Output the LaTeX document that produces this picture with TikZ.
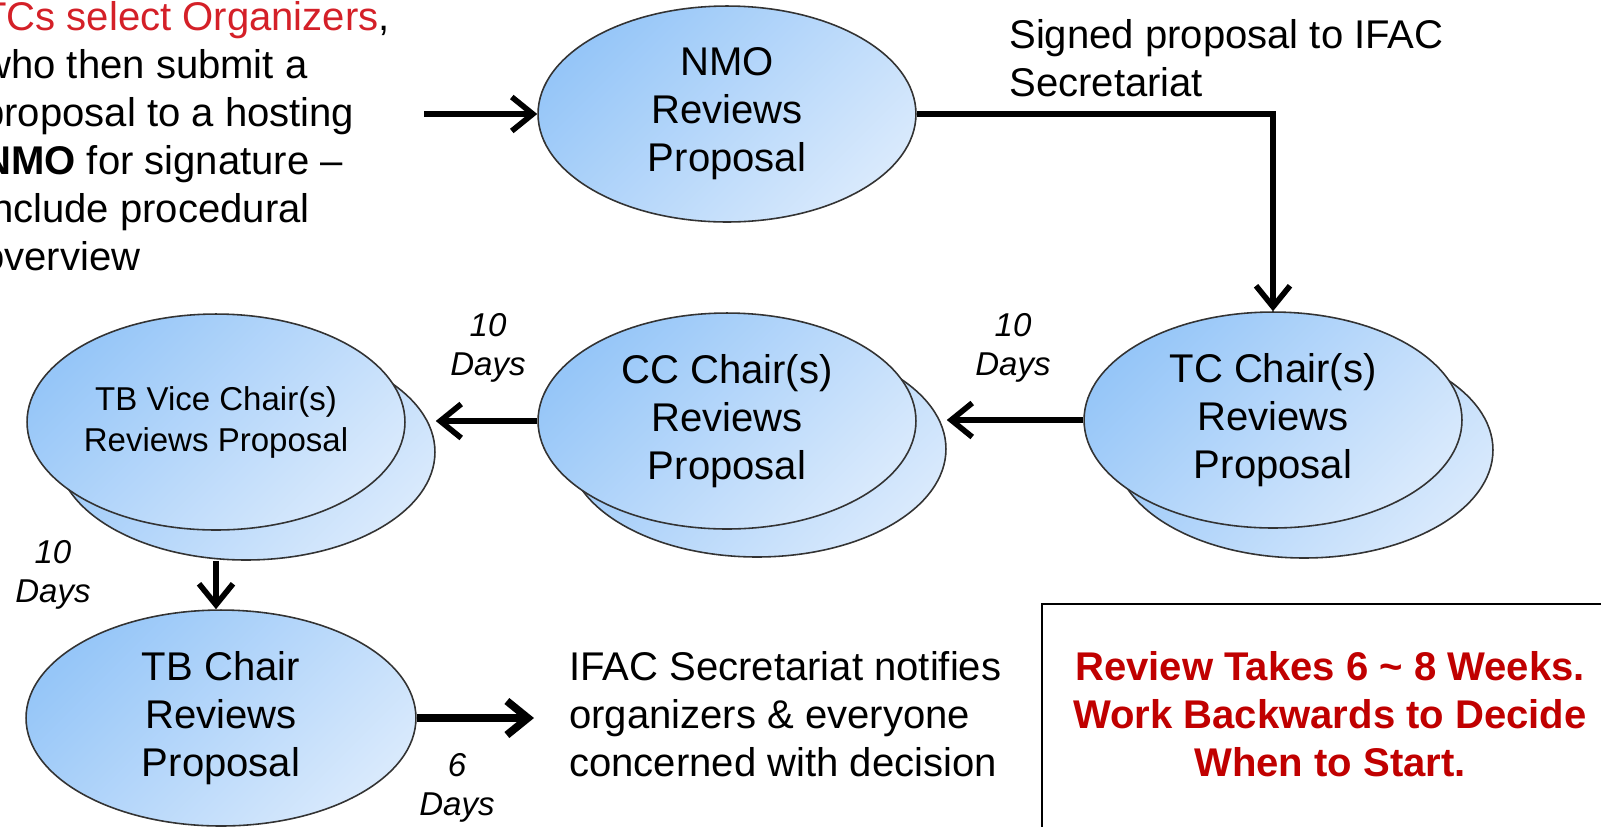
\documentclass[tikz,border=0pt]{standalone}
\usepackage{fontspec}
\setmainfont{Liberation Sans}
\usetikzlibrary{arrows.meta,shapes.geometric}
\definecolor{blobdark}{RGB}{150,198,248}
\definecolor{bloblight}{RGB}{216,233,252}
\definecolor{introred}{RGB}{212,32,40}
\definecolor{notered}{RGB}{192,0,0}

\begin{document}
\begin{tikzpicture}[x=0.02cm,y=-0.02cm]
	\tikzstyle{blob} = [ellipse, draw=black!80, line width=0.9pt, minimum width=7.56cm, minimum height=4.32cm, inner sep=0pt, top color=blobdark, bottom color=bloblight, shading angle=45, align=center, font=\fontsize{22.8}{27.3}\selectfont]
	\tikzstyle{vice} = [blob, font=\fontsize{18.8}{23.3}\selectfont]
	\tikzstyle{says} = [align=left, inner sep=0pt, font=\fontsize{22.8}{27.3}\selectfont]
	\tikzstyle{days} = [align=center, inner sep=0pt, font=\fontsize{18.8}{22.2}\selectfont\itshape]
	\tikzstyle{arr}  = [-{Straight Barb[length=0.42cm,width=0.68cm]}, line width=3.2pt]

	\useasboundingbox (0,0) rectangle (1601,826);
	\clip (0,0) rectangle (1601,826);

	\foreach \name/\x/\y in {tcback/1304/450, ccback/757/449, tbvback/246/452}
		\node[blob] (\name) at (\x,\y) {};

	\foreach \name/\x/\y/\txt in {nmo/727/114/NMO, tc/1273/420/{TC Chair(s)}, cc/727/421/{CC Chair(s)}}
		\node[blob] (\name) at (\x,\y) {\txt\\Reviews\\Proposal};

	\node[blob, minimum width=7.8cm] (tbchair) at (221,718) {TB Chair\\Reviews\\Proposal};
	\node[vice] (tbv) at (216,422) {TB Vice Chair(s)\\Reviews Proposal};

	\node[says, anchor=north west] (intro) at (-18,1) {\textcolor{introred}{TCs select Organizers},\\who then submit a\\proposal to a hosting\\\textbf{NMO} for signature –\\include procedural\\overview};
	\node[says, anchor=west] (signed) at (1009,58) {Signed proposal to IFAC\\Secretariat};
	\node[says, anchor=west] (notify) at (569,714) {IFAC Secretariat notifies\\organizers \& everyone\\concerned with decision};

	\draw[line width=1.6pt] (1042,604) rectangle (1640,860);
	\node[says, align=center, text=notered, font=\fontsize{22.8}{27.3}\selectfont\bfseries] (note) at (1330,714) {Review Takes 6 \textasciitilde{} 8 Weeks.\\Work Backwards to Decide\\When to Start.};

	\foreach \name/\x/\y/\cnt in {dtc/1013/348/10, dcc/488/348/10, dtbv/53/575/10, dtb/457/788/6}
		\node[days] (\name) at (\x,\y) {\cnt\\Days};

	\coordinate (start) at (424,114);
	\draw[arr] (start) -- (nmo.west);
	\draw[arr] (nmo.east) -| (tc.north);
	\draw[arr] (tc.west) -- (tc.west -| ccback.east);
	\draw[arr] (cc.west) -- (cc.west -| tbvback.east);
	\draw[arr] (tbv.south |- tbvback.south) -- (tbv.south |- tbchair.north);
	\draw[arr, line width=4.4pt] (tbchair.east) -- ([xshift=-0.7cm]notify.west |- tbchair.east);
\end{tikzpicture}
\end{document}
